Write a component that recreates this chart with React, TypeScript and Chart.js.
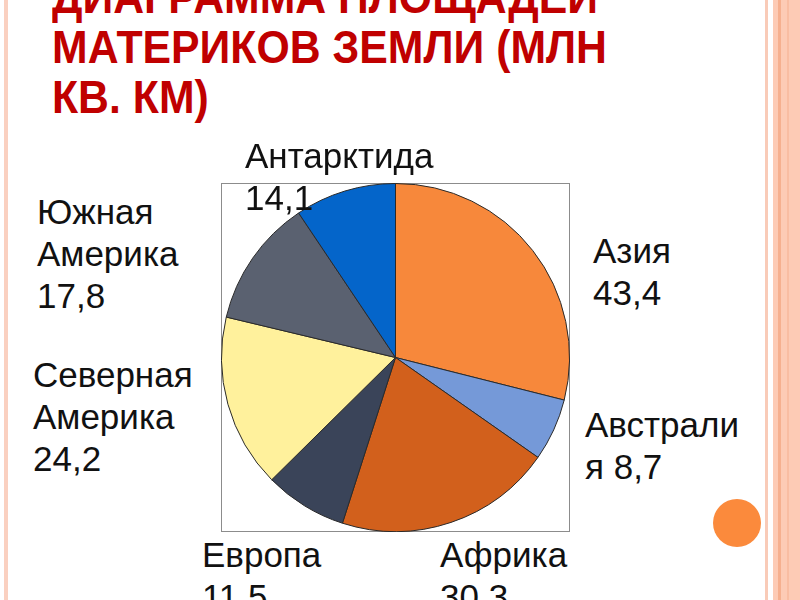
import React, { useEffect, useRef } from "react";
import { Chart, registerables } from "chart.js";

Chart.register(...registerables);

const categories = ["Азия", "Австралия", "Африка", "Европа", "Северная Америка", "Южная Америка", "Антарктида"];
const areas = [43.4, 8.7, 30.3, 11.5, 24.2, 17.8, 14.1];
const sliceColors = ["#F7883B", "#7599D8", "#D2601C", "#3A4459", "#FFF19C", "#5A6170", "#0465CA"];
const titleLines = ["ДИАГРАММА ПЛОЩАДЕЙ", "МАТЕРИКОВ ЗЕМЛИ (МЛН", "КВ. КМ)"];

// layout of the data labels (left, top of text block, break indices in "name value")
const labelLayout = [
  { left: 593, top: 230, breaks: [4] },
  { left: 585, top: 404, breaks: [8] },
  { left: 440, top: 534, breaks: [6] },
  { left: 202, top: 534, breaks: [6] },
  { left: 33, top: 354, breaks: [8, 16] },
  { left: 37, top: 191, breaks: [5, 13] },
  { left: 245, top: 135, breaks: [10] },
];

function fmt(v: number) {
  return v.toFixed(1).replace(".", ",");
}

function splitAt(text: string, breaks: number[]) {
  const out: string[] = [];
  let prev = 0;
  for (const b of breaks) {
    out.push(text.slice(prev, b).trim());
    prev = b;
  }
  out.push(text.slice(prev).trim());
  return out;
}

export default function App() {
  const ref = useRef<HTMLCanvasElement>(null);

  useEffect(() => {
    document.body.style.margin = "0";
    const chart = new Chart(ref.current!, {
      type: "pie",
      data: {
        labels: categories,
        datasets: [
          {
            data: areas,
            backgroundColor: sliceColors,
            borderColor: "#2a2a2a",
            borderWidth: 1,
          },
        ],
      },
      options: {
        animation: false,
        responsive: false,
        maintainAspectRatio: false,
        layout: { padding: 0 },
        plugins: { legend: { display: false }, tooltip: { enabled: false } },
      },
    });
    return () => chart.destroy();
  }, []);

  const font = "'Liberation Sans', Arial, sans-serif";

  return (
    <div style={{ position: "relative", width: 800, height: 600, overflow: "hidden", background: "#fff", fontFamily: font }}>
      {/* slide decorations */}
      <div style={{ position: "absolute", left: 4, top: 0, width: 4, height: 600, background: "#FAD0C0" }} />
      <div style={{ position: "absolute", left: 765, top: 0, width: 3, height: 600, background: "#F9CBB8" }} />
      <div style={{ position: "absolute", left: 773, top: 0, width: 27, height: 600, background: "#FDCBB5" }} />
      <div style={{ position: "absolute", left: 778, top: 0, width: 3, height: 600, background: "#F6B08F" }} />
      <div style={{ position: "absolute", left: 787, top: 0, width: 2, height: 600, background: "#F9BDA2" }} />
      <div style={{ position: "absolute", left: 713, top: 499, width: 48, height: 48, borderRadius: "50%", background: "#FB8A3C" }} />

      {/* title */}
      <div
        style={{
          position: "absolute",
          left: 52,
          top: -28,
          color: "#C00000",
          fontWeight: "bold",
          fontSize: 46,
          lineHeight: "50px",
          whiteSpace: "nowrap",
          transform: "scaleX(0.93)",
          transformOrigin: "left top",
        }}
      >
        {titleLines.map((t, i) => (
          <div key={i}>{t}</div>
        ))}
      </div>

      {/* chart box */}
      <div
        style={{
          position: "absolute",
          left: 221,
          top: 183,
          width: 349,
          height: 349,
          boxSizing: "border-box",
          border: "1px solid #8C8C8C",
        }}
      />
      <canvas ref={ref} width={349} height={349} style={{ position: "absolute", left: 221, top: 183, width: 349, height: 349 }} />

      {/* data labels */}
      {categories.map((c, i) => {
        const lay = labelLayout[i];
        const lines = splitAt(`${c} ${fmt(areas[i])}`, lay.breaks);
        return (
          <div
            key={c}
            style={{
              position: "absolute",
              left: lay.left,
              top: lay.top,
              fontSize: 35,
              lineHeight: "42px",
              color: "#111",
              whiteSpace: "nowrap",
            }}
          >
            {lines.map((l, j) => (
              <div key={j}>{l}</div>
            ))}
          </div>
        );
      })}
    </div>
  );
}
